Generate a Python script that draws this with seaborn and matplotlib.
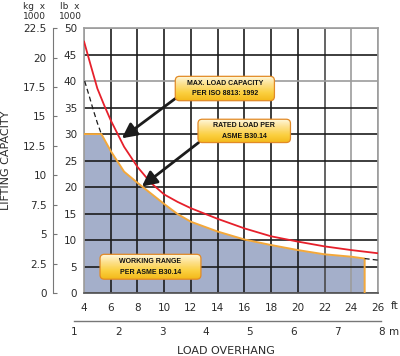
import numpy as np
import pandas as pd
import seaborn as sns
import matplotlib.pyplot as plt
from matplotlib.patches import FancyBboxPatch
from matplotlib.colors import LinearSegmentedColormap

# values: load overhang in ft, capacity in lb x 1000
max_ft = [4, 4.5, 5, 5.5, 6, 7, 8, 9, 10, 11, 12, 14, 16, 18, 20, 22, 24, 26]
max_lb = [47.5, 43.0, 38.6, 35.5, 32.6, 27.6, 23.8, 20.8, 18.6, 17.2, 16.0, 14.0, 12.2, 10.7, 9.7, 8.8, 8.1, 7.5]

rated_ft = [4, 5.3, 6, 7, 8, 9, 10, 11, 12, 14, 16, 18, 20, 22, 24, 25, 25]
rated_lb = [30, 30, 26.8, 22.9, 20.8, 18.8, 16.8, 14.9, 13.45, 11.6, 10.1, 9.05, 8.1, 7.3, 6.85, 6.5, 0]

# dashed continuation of the rated curve outside the working range
ext_left_ft = [4.05, 4.4, 4.7, 5.0, 5.3]
ext_left_lb = [40, 37.1, 34.5, 32.1, 30]
ext_right_ft = [25, 26]
ext_right_lb = [6.5, 6.2]

ft_ticks = list(range(4, 27, 2))
lb_ticks = list(range(0, 51, 5))
kg_ticks = [0, 2.5, 5, 7.5, 10, 12.5, 15, 17.5, 20, 22.5]
kg_labels = ['0', '2.5', '5', '7.5', '10', '12.5', '15', '17.5', '20', '22.5']
m_ticks = [1, 2, 3, 4, 5, 6, 7, 8]

RED = '#e6202b'
ORANGE = '#f4a83a'
FILL = '#a4afca'
BLACK = '#1c1c1c'
GREY = '#9c9c9c'
TXT = '#2a2a2a'
FT_PER_M = 1 / 0.3048

sns.set_style('white')
plt.rcParams['font.family'] = ['DejaVu Sans']

fig = plt.figure(figsize=(4, 3.56), dpi=100)
ax_left, ax_bottom, ax_w, ax_h = 0.21, 0.177, 0.735, 0.744
ax = fig.add_axes([ax_left, ax_bottom, ax_w, ax_h])

max_df = pd.DataFrame({'ft': max_ft, 'lb': max_lb})
rated_df = pd.DataFrame({'ft': rated_ft, 'lb': rated_lb})

ax.fill_between(rated_df['ft'], rated_df['lb'], color=FILL, lw=0, zorder=0.2)
sns.lineplot(data=rated_df, x='ft', y='lb', ax=ax, color=ORANGE, lw=1.4,
             estimator=None, sort=False, zorder=3)
sns.lineplot(data=max_df, x='ft', y='lb', ax=ax, color=RED, lw=1.3,
             estimator=None, sort=False, zorder=3)
sns.lineplot(x=ext_left_ft, y=ext_left_lb, ax=ax, color=BLACK, lw=0.9,
             linestyle=(0, (4, 2.5)), estimator=None, sort=False, zorder=3)
sns.lineplot(x=ext_right_ft, y=ext_right_lb, ax=ax, color=BLACK, lw=0.9,
             linestyle=(0, (4, 2.5)), estimator=None, sort=False, zorder=3)

ax.set_xticks(ft_ticks)
ax.set_yticks(lb_ticks)
ax.set_xlabel('')
ax.set_ylabel('')
ax.tick_params(length=0, labelsize=7.5, labelcolor=TXT)
ax.tick_params(axis='x', pad=7)
ax.tick_params(axis='y', pad=5)

# grid, mostly black with a few grey lines
ax.set_axisbelow(True)
ax.grid(True, lw=1.2)
grey_x = {4: GREY, 22: '#4a4a4a', 24: GREY, 26: GREY}
grey_y = {0: '#555555', 40: GREY, 50: GREY}
for t, gl in zip(ft_ticks, ax.get_xgridlines()):
    gl.set_color(grey_x.get(t, BLACK))
for t, gl in zip(lb_ticks, ax.get_ygridlines()):
    gl.set_color(grey_y.get(t, BLACK))
for s in ax.spines.values():
    s.set_color(GREY)
    s.set_linewidth(1.2)
ax.spines['bottom'].set_color('#555555')

# kg axis on the far left
kg = ax.secondary_yaxis('left', functions=(lambda v: v * 0.45, lambda v: v / 0.45))
kg.spines['left'].set_position(('outward', 22))
kg.spines['left'].set_bounds(0, 22.5)
kg.spines['left'].set_color('#777777')
kg.set_yticks(kg_ticks, labels=kg_labels)
kg.tick_params(direction='in', length=3, width=0.8, color='#777777',
               pad=5, labelsize=7.5, labelcolor=TXT)

# callout boxes with a yellow gradient
grad = np.linspace(0, 1, 64).reshape(-1, 1)
box_cmap = LinearSegmentedColormap.from_list('callout', ['#fff8dc', '#fde08a', '#fbd040', '#f3b91a'])
aspect = (13.33 / 5.3)


def callout(x0, x1, y0, y1, text):
    box = FancyBboxPatch((x0, y0), x1 - x0, y1 - y0,
                         boxstyle='round,pad=0,rounding_size=0.32',
                         mutation_aspect=aspect, fc='none', ec='#e28a26',
                         lw=0.9, zorder=6)
    ax.add_patch(box)
    img = ax.imshow(grad, extent=[x0, x1, y0, y1], aspect='auto',
                    cmap=box_cmap, zorder=5, interpolation='bilinear')
    img.set_clip_path(box)
    ax.text((x0 + x1) / 2, (y0 + y1) / 2, text, ha='center', va='center',
            fontsize=5, fontweight='bold', family='Liberation Sans',
            linespacing=1.75, color='#111111', zorder=7)


callout(10.83, 18.25, 36.3, 40.9, 'MAX. LOAD CAPACITY\nPER ISO 8813: 1992')
callout(12.53, 19.45, 28.4, 32.8, 'RATED LOAD PER\nASME B30.14')
callout(5.2, 12.75, 2.6, 7.3, 'WORKING RANGE\nPER ASME B30.14')

arrow = dict(arrowstyle='-|>,head_length=0.9,head_width=0.45', color=BLACK,
             lw=2.0, mutation_scale=10, shrinkA=0, shrinkB=0)
ax.annotate('', xy=(6.83, 29.2), xytext=(10.83, 36.7), arrowprops=arrow, zorder=4)
ax.annotate('', xy=(8.33, 20.1), xytext=(12.58, 28.4), arrowprops=arrow, zorder=4)

ax.set_xlim(4, 26)
ax.set_ylim(0, 50)

# metre axis under the ft labels, runs from 1 m to 8 m on the same scale
px_per_ft = ax_w / 22
m0 = ax_left + (m_ticks[0] * FT_PER_M - 4) * px_per_ft
m1 = ax_left + (m_ticks[-1] * FT_PER_M - 4) * px_per_ft
m_ax = fig.add_axes([m0, 1 - 321 / 356, m1 - m0, 0.001])
m_ax.set_xlim(m_ticks[0], m_ticks[-1])
m_ax.set_xticks(m_ticks)
m_ax.set_yticks([])
m_ax.patch.set_visible(False)
for side in ['top', 'left', 'right']:
    m_ax.spines[side].set_visible(False)
m_ax.spines['bottom'].set_color('#777777')
m_ax.spines['bottom'].set_linewidth(1.0)
m_ax.tick_params(axis='x', direction='in', length=3, width=0.8, color='#777777',
                 pad=4, labelsize=7.5, labelcolor=TXT)

# surrounding labels
fig.text(34 / 400, 1 - 11.5 / 356, 'kg  x\n1000', ha='center', va='center',
         fontsize=6.5, linespacing=1.25, color=TXT)
fig.text(70 / 400, 1 - 11.5 / 356, 'lb  x\n1000', ha='center', va='center',
         fontsize=6.5, linespacing=1.25, color=TXT)
fig.text(6 / 400, 1 - 160 / 356, 'LIFTING CAPACITY', rotation=90, ha='center',
         va='center', fontsize=8, color=TXT)
fig.text(226 / 400, 1 - 351 / 356, 'LOAD OVERHANG', ha='center', va='center',
         fontsize=8, color=TXT)
fig.text(395 / 400, 1 - 306 / 356, 'ft', ha='center', va='center',
         fontsize=7.5, color=TXT)
fig.text(394 / 400, 1 - 332 / 356, 'm', ha='center', va='center',
         fontsize=7.5, color=TXT)

fig.savefig('out.png', dpi=100)
plt.close(fig)
